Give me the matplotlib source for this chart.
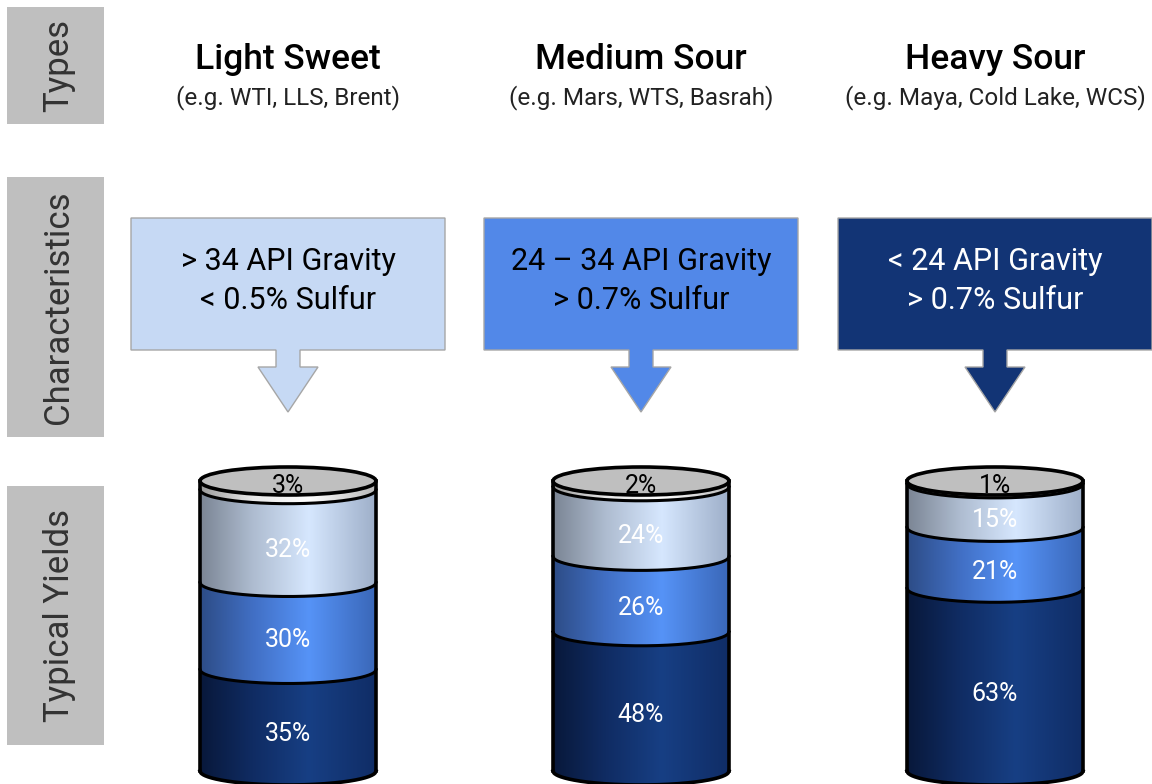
import numpy as np
import matplotlib.pyplot as plt
from matplotlib.patches import Rectangle, Polygon, Ellipse, PathPatch
from matplotlib.path import Path
from matplotlib.colors import LinearSegmentedColormap

plt.rcParams['font.family'] = ['Roboto', 'DejaVu Sans']

# Data
types = ["Light Sweet", "Medium Sour", "Heavy Sour"]
examples = ["(e.g. WTI, LLS, Brent)", "(e.g. Mars, WTS, Basrah)", "(e.g. Maya, Cold Lake, WCS)"]
gravity = ["> 34 API Gravity", "24 \u2013 34 API Gravity", "< 24 API Gravity"]
sulfur = ["< 0.5% Sulfur", "> 0.7% Sulfur", "> 0.7% Sulfur"]
row_labels = ["Types", "Characteristics", "Typical Yields"]

# yields, bottom to top of each barrel
heavy_yield = [35, 48, 63]
medium_yield = [30, 26, 21]
light_yield = [32, 24, 15]
other_yield = [3, 2, 1]

box_colors = ["#c6d9f4", "#5288e8", "#123475"]
box_text_colors = ["black", "black", "white"]

# gradient stops across the barrel (left -> right)
grad_dark = ["#08183a", "#102c63", "#173f84", "#102d66"]
grad_mid = ["#2d4c86", "#416fc4", "#5693f7", "#3a67b8"]
grad_light = ["#7b8594", "#aebcd0", "#d6e7fe", "#9eafc9"]
grad_top = ["#9a9a9a", "#e8e8e8", "#ffffff", "#b8b8b8"]

# layout (pixels)
W, H = 1152, 784
centers = [288, 641, 995]
cyl_half = 88
px_per_pct = 2.9
cyl_base = 771
ell_b = 14

fig = plt.figure(figsize=(W / 100, H / 100), dpi=100)
ax = fig.add_axes([0, 0, 1, 1])
ax.set_xlim(0, W)
ax.set_ylim(H, 0)
ax.axis('off')

# left gray labels
row_boxes = [(7, 124), (177, 437), (486, 745)]
for lab, (y0, y1) in zip(row_labels, row_boxes):
    ax.add_patch(Rectangle((7, y0), 97, y1 - y0, facecolor="#bfbfbf", edgecolor="none"))
    ax.text(59, (y0 + y1) / 2, lab, rotation=90, ha='center', va='center',
            fontsize=25, color="#333333")

for i, cx in enumerate(centers):
    # headings
    ax.text(cx, 59, types[i], ha='center', va='center', fontsize=25.5, fontweight='medium')
    ax.text(cx, 98, examples[i], ha='center', va='center', fontsize=17.5, color="#222222")

    # callout box with arrow
    x0, x1 = cx - 157, cx + 157
    pts = [(x0, 218), (x1, 218), (x1, 350), (cx + 12, 350), (cx + 12, 367),
           (cx + 30, 367), (cx, 412), (cx - 30, 367), (cx - 12, 367), (cx - 12, 350),
           (x0, 350)]
    ax.add_patch(Polygon(pts, closed=True, facecolor=box_colors[i], edgecolor="#a6a6a6", lw=1))
    ax.text(cx, 262, gravity[i], ha='center', va='center', fontsize=22, color=box_text_colors[i])
    ax.text(cx, 300, sulfur[i], ha='center', va='center', fontsize=22, color=box_text_colors[i])

# barrels, each in its own axes scaled in percent
top_px = 455
for i, cx in enumerate(centers):
    cax = fig.add_axes([(cx - 100) / W, 0, 200 / W, (H - top_px) / H])
    cax.set_xlim(-100 / cyl_half, 100 / cyl_half)
    cax.set_ylim((cyl_base - H) / px_per_pct, (cyl_base - top_px) / px_per_pct)
    cax.axis('off')
    b = ell_b / px_per_pct
    xs = np.linspace(-1, 1, 200)
    arc = b * np.sqrt(1 - xs ** 2)

    segs = [heavy_yield[i], medium_yield[i], light_yield[i], other_yield[i]]
    grads = [grad_dark, grad_mid, grad_light, grad_top]
    bottom = 0
    for k, (v, g) in enumerate(zip(segs, grads)):
        top = bottom + v
        verts = list(zip(xs, bottom - arc)) + list(zip(xs[::-1], top - arc[::-1]))
        path = Path(verts + [verts[0]], [Path.MOVETO] + [Path.LINETO] * (len(verts) - 1) + [Path.CLOSEPOLY])
        patch = PathPatch(path, facecolor='none', edgecolor='none')
        cax.add_patch(patch)
        cmap = LinearSegmentedColormap.from_list("g", list(zip([0, 0.3, 0.62, 1], g)))
        im = cax.imshow(np.linspace(0, 1, 256)[None, :], cmap=cmap, aspect='auto',
                        extent=[-1, 1, bottom - b - 1, top + 1], origin='lower', zorder=1)
        im.set_clip_path(patch)
        # boundary line at the bottom of each segment above the first
        if k > 0:
            cax.plot(xs, bottom - arc, color='black', lw=2.2, zorder=3)
        if k < 3:
            cax.text(0, (bottom + top) / 2 - b, f"{v}%", ha='center', va='center',
                     fontsize=18, color='white', zorder=5)
        bottom = top
    # sides and base
    cax.plot([-1, -1], [0, bottom], color='black', lw=2.6, zorder=4)
    cax.plot([1, 1], [0, bottom], color='black', lw=2.6, zorder=4)
    cax.plot(xs, -arc, color='black', lw=2.6, zorder=4)
    # top lid
    cax.add_patch(Ellipse((0, bottom), 2, 2 * b, facecolor="#bfbfbf", edgecolor='black', lw=2.6, zorder=4))
    cax.text(0, bottom - b * 0.35, f"{other_yield[i]}%", ha='center', va='center',
             fontsize=18, color='black', zorder=6)

fig.savefig("out.png", dpi=100)
